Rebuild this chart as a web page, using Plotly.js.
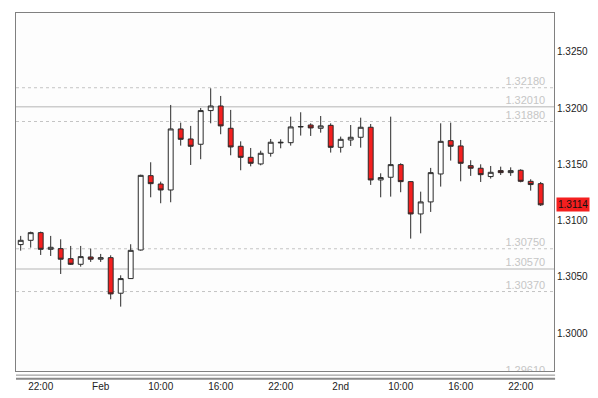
<!DOCTYPE html>
<html>
<head>
<meta charset="utf-8">
<script src="https://cdn.plot.ly/plotly-3.0.1.min.js"></script>
<style>html,body{margin:0;padding:0;background:#fff;}#chart{width:598px;height:398px;}</style>
</head>
<body>
<div id="chart"></div>
<script>
// Hourly OHLC candles (one per hour)
const open  = [1.30787,1.30825,1.30893,1.30745,1.30751,1.30662,1.30612,1.30677,1.30657,1.30671,1.30355,1.30485,1.30739,
               1.31399,1.31325,1.31272,1.31814,1.31725,1.31678,1.31977,1.32018,1.31820,1.31660,1.31562,1.31503,1.31598,
               1.31690,1.31692,1.31832,1.31849,1.31820,1.31846,1.31651,1.31716,1.31740,1.31829,1.31361,1.31385,1.31497,
               1.31346,1.31059,1.31166,1.31414,1.31710,1.31663,1.31488,1.31465,1.31391,1.31444,1.31426,1.31447,1.31349,1.31328];
const high  = [1.30864,1.30902,1.30902,1.30864,1.30834,1.30775,1.30775,1.30751,1.30704,1.30692,1.30514,1.30790,1.31408,
               1.31518,1.31346,1.32027,1.31870,1.31841,1.32000,1.32175,1.32107,1.31983,1.31704,1.31645,1.31621,1.31725,
               1.31722,1.31923,1.31962,1.31864,1.31929,1.31864,1.31746,1.31849,1.31914,1.31858,1.31420,1.31923,1.31509,
               1.31350,1.31257,1.31468,1.31864,1.31870,1.31716,1.31536,1.31500,1.31485,1.31479,1.31473,1.31456,1.31367,1.31343];
const low   = [1.30733,1.30760,1.30695,1.30686,1.30526,1.30606,1.30591,1.30633,1.30633,1.30301,1.30236,1.30482,1.30733,
               1.31207,1.31154,1.31163,1.31666,1.31494,1.31545,1.31864,1.31767,1.31580,1.31447,1.31482,1.31491,1.31568,
               1.31642,1.31666,1.31755,1.31752,1.31781,1.31604,1.31604,1.31663,1.31648,1.31317,1.31207,1.31213,1.31252,
               1.30840,1.30887,1.31077,1.31302,1.31533,1.31349,1.31397,1.31343,1.31373,1.31405,1.31397,1.31340,1.31266,1.31130];
const close = [1.30825,1.30893,1.30745,1.30763,1.30657,1.30612,1.30680,1.30657,1.30671,1.30349,1.30485,1.30736,1.31402,
               1.31328,1.31272,1.31814,1.31722,1.31660,1.31977,1.32018,1.31841,1.31654,1.31562,1.31509,1.31598,1.31696,
               1.31695,1.31832,1.31835,1.31823,1.31841,1.31651,1.31722,1.31740,1.31829,1.31361,1.31382,1.31497,1.31346,
               1.31059,1.31166,1.31426,1.31704,1.31660,1.31509,1.31465,1.31408,1.31429,1.31426,1.31444,1.31349,1.31320,1.31140];

// Time-axis labels and the candle index they belong to
const tickIndex  = [2, 8, 14, 20, 26, 32, 38, 44, 50];
const tickLabels = ['22:00','Feb','10:00','16:00','22:00','2nd','10:00','16:00','22:00'];

// Price levels
const solidLevels  = [1.3201, 1.3057];
const dashedLevels = [1.3218, 1.3188, 1.3075, 1.3037, 1.2961];
const lastPrice = 1.3114;

const idx = open.map((_, i) => i);
const allLevels = solidLevels.concat(dashedLevels);

const candles = {
  type: 'candlestick',
  x: idx, open: open, high: high, low: low, close: close,
  increasing: {line: {color: '#2a2a2a', width: 1}, fillcolor: '#ffffff'},
  decreasing: {line: {color: '#2a2a2a', width: 1}, fillcolor: '#f41f1f'},
  whiskerwidth: 0,
  hoverinfo: 'skip',
  showlegend: false
};

const levelText = {
  type: 'scatter',
  mode: 'text',
  x: allLevels.map(() => 52.45),
  y: allLevels,
  text: allLevels.map(v => v.toFixed(5)),
  textposition: 'top left',
  textfont: {family: 'Liberation Sans, Arial, sans-serif', size: 11, color: '#c6c6c6'},
  cliponaxis: true,
  hoverinfo: 'skip',
  showlegend: false
};

const shapes = [];
solidLevels.forEach(v => shapes.push({
  type: 'line', xref: 'paper', x0: 0, x1: 1, yref: 'y', y0: v, y1: v,
  line: {color: '#cdcdcd', width: 1.5}, layer: 'below'
}));
dashedLevels.forEach(v => shapes.push({
  type: 'line', xref: 'paper', x0: 0, x1: 1, yref: 'y', y0: v, y1: v,
  line: {color: '#c4c4c4', width: 1, dash: '3px,3px'}, layer: 'below'
}));
// double separator under the plot
shapes.push({type: 'line', xref: 'paper', yref: 'paper', x0: 0, x1: 1.002, y0: -0.0115, y1: -0.0115,
  line: {color: '#8a8a8a', width: 1}});
shapes.push({type: 'line', xref: 'paper', yref: 'paper', x0: 0, x1: 1.002, y0: -0.0215, y1: -0.0215,
  line: {color: '#8a8a8a', width: 2}});

const layout = {
  width: 598, height: 398,
  margin: {l: 16, r: 44, t: 13, b: 27, pad: 0},
  paper_bgcolor: '#ffffff',
  plot_bgcolor: '#fdfdfd',
  hovermode: false,
  showlegend: false,
  font: {family: 'Liberation Sans, Arial, sans-serif', size: 10, color: '#222'},
  xaxis: {
    range: [-0.47, 53.33],
    rangeslider: {visible: false},
    tickmode: 'array', tickvals: tickIndex, ticktext: tickLabels,
    ticks: 'outside', ticklen: 6, tickcolor: 'rgba(0,0,0,0)',
    showgrid: false, zeroline: false,
    showline: true, mirror: true, linecolor: '#808080', linewidth: 1,
    tickfont: {size: 10, color: '#222'},
    fixedrange: true
  },
  yaxis: {
    side: 'right',
    range: [1.296643, 1.328437],
    tickmode: 'linear', tick0: 1.3, dtick: 0.005, tickformat: '.4f',
    ticks: '', showgrid: false, zeroline: false,
    showline: true, mirror: true, linecolor: '#808080', linewidth: 1,
    tickfont: {size: 10, color: '#222'},
    fixedrange: true
  },
  shapes: shapes,
  annotations: [{
    xref: 'paper', yref: 'y', x: 1.0037, y: lastPrice,
    xanchor: 'left', yanchor: 'middle',
    text: lastPrice.toFixed(4), showarrow: false,
    bgcolor: '#f41f1f', borderpad: 1,
    font: {family: 'Liberation Sans, Arial, sans-serif', size: 10, color: '#111'}
  }]
};

Plotly.newPlot('chart', [candles, levelText], layout, {displayModeBar: false, staticPlot: true});
</script>
</body>
</html>
